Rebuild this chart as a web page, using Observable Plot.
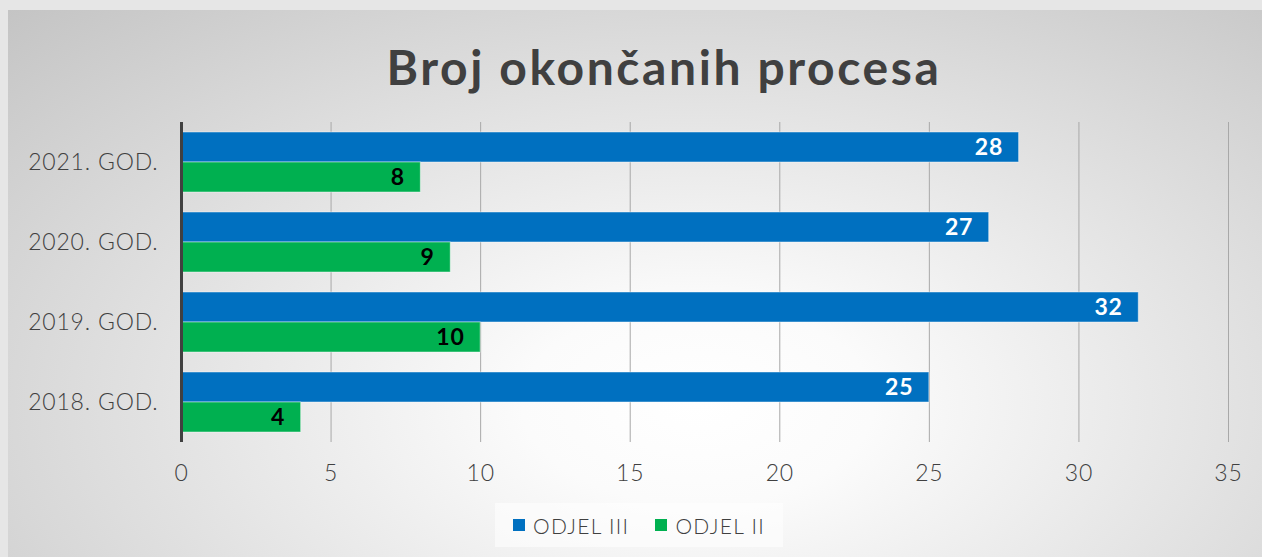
<!DOCTYPE html>
<html>
<head>
<meta charset="utf-8">
<script src="https://cdn.jsdelivr.net/npm/d3@7"></script>
<script src="https://cdn.jsdelivr.net/npm/@observablehq/plot@0.6"></script>
<style>
  html, body { margin: 0; padding: 0; }
  body { width: 1262px; height: 557px; overflow: hidden; background: #e6e6e6; font-family: Lato, "Open Sans", sans-serif; }
  #panel { position: absolute; left: 8px; top: 10px; width: 1254px; height: 547px;
    background: radial-gradient(ellipse farthest-corner at 55% 72%, #ffffff 0%, #fbfbfb 18%, #c4c4c4 100%); }
  #title { position: absolute; left: 33px; top: 43px; width: 1262px; text-align: center; font-size: 48px; font-weight: 700; color: #404040; line-height: 1; letter-spacing: 2.6px; }
  #chart { position: absolute; left: 0; top: 0; }
  #chart svg text { letter-spacing: 0.8px; }
  #legend { position: absolute; left: 495px; top: 503px; width: 288px; height: 44px; background: rgba(255,255,255,0.55);
    display: flex; align-items: center; justify-content: center; gap: 26px; font-size: 21px; color: #404040; letter-spacing: 1.3px; }
  #legend .item { display: flex; align-items: center; gap: 8px; }
  #legend .sw { width: 12px; height: 12px; display: inline-block; }
</style>
</head>
<body>
<div id="panel"></div>
<div id="title">Broj okončanih procesa</div>
<div id="chart"></div>
<div id="legend"></div>
<script>
const years = ["2021. GOD.", "2020. GOD.", "2019. GOD.", "2018. GOD."];
const series = ["ODJEL III", "ODJEL II"];
const odjel3 = [28, 27, 32, 25];
const odjel2 = [8, 9, 10, 4];
const xTicks = [0, 5, 10, 15, 20, 25, 30, 35];
const colors = ["#0070C0", "#00B050"];

const rows = years.flatMap((y, i) => [
  {year: y, series: series[0], value: odjel3[i]},
  {year: y, series: series[1], value: odjel2[i]}
]);

const chart = Plot.plot({
  width: 1262,
  height: 500,
  marginTop: 122,
  marginBottom: 58,
  marginLeft: 181,
  marginRight: 34,
  style: {background: "transparent", fontSize: "23px", color: "#404040", fontFamily: "Lato, 'Open Sans', sans-serif", fontWeight: 300},
  facet: {data: rows, y: "year", marginRight: 0},
  fy: {domain: years, padding: 0, label: null, tickSize: 0, tickPadding: 23, axis: "left"},
  y: {domain: series, paddingInner: 0, paddingOuter: 1/3, axis: null},
  x: {domain: [0, 35], ticks: xTicks, tickSize: 0, tickPadding: 22, label: null},
  color: {domain: series, range: colors},
  marks: [
    Plot.ruleX(xTicks.slice(1), {stroke: "#a8a8a8", strokeWidth: 1}),
    Plot.barX(rows, {x: "value", y: "series", fill: "series", stroke: "#ffffff", strokeOpacity: 0.45, strokeWidth: 1}),
    Plot.text(rows, {filter: d => d.series === series[0], x: "value", y: "series", text: d => String(d.value), textAnchor: "end", dx: -16, fill: "white", fontWeight: "bold", fontSize: 23}),
    Plot.text(rows, {filter: d => d.series === series[1], x: "value", y: "series", text: d => String(d.value), textAnchor: "end", dx: -16, fill: "black", fontWeight: "bold", fontSize: 23}),
    Plot.ruleX([0], {stroke: "#404040", strokeWidth: 3})
  ]
});
document.getElementById("chart").appendChild(chart);

const legend = document.getElementById("legend");
series.forEach((s, i) => {
  const item = document.createElement("div");
  item.className = "item";
  const sw = document.createElement("span");
  sw.className = "sw";
  sw.style.background = colors[i];
  const t = document.createElement("span");
  t.textContent = s;
  t.style.fontWeight = 300;
  item.appendChild(sw);
  item.appendChild(t);
  legend.appendChild(item);
});
</script>
</body>
</html>
